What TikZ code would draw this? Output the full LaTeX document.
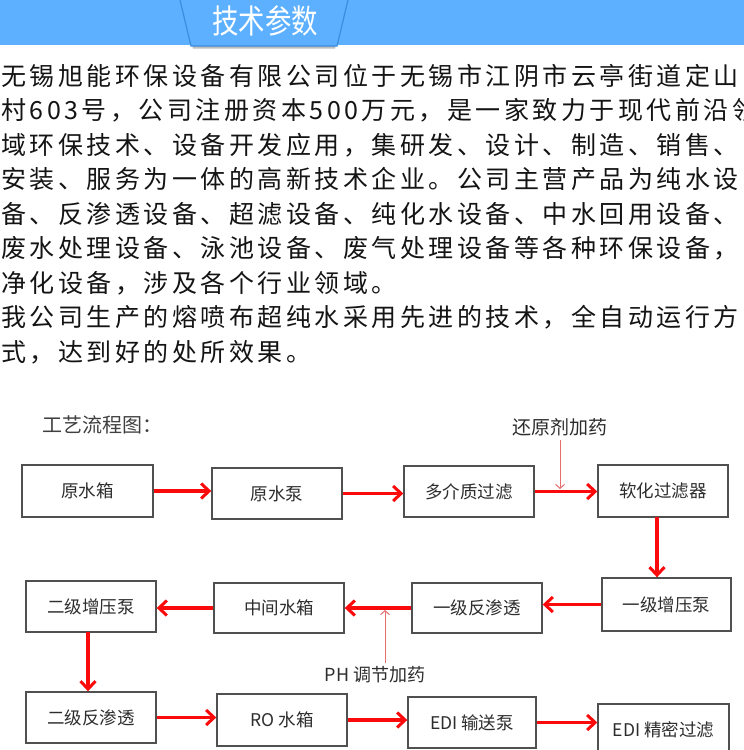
\documentclass[tikz,border=0pt]{standalone}
\usepackage{fontspec}
\usetikzlibrary{arrows.meta}
\newfontfamily\cjk{Noto Sans CJK SC}
\newfontfamily\cjkbody[LetterSpace=14]{Noto Sans CJK SC}
\definecolor{band}{RGB}{92,176,255}
\definecolor{bandedge}{RGB}{60,140,220}
\definecolor{boxline}{RGB}{80,80,80}
\definecolor{boxtext}{RGB}{45,45,45}
\definecolor{flowred}{RGB}{250,10,10}
\definecolor{thinred}{RGB}{232,110,110}
\tikzset{
  procbox/.style={draw=boxline, line width=1.4pt, fill=white, text=boxtext,
    font=\cjk\fontsize{17.5}{17.5}\selectfont, minimum width=130pt, minimum height=51pt,
    inner sep=0pt},
  flow/.style={draw=flowred, line width=3.2pt,
    -{Straight Barb[length=8pt,width=15pt,line width=3pt]}},
  dose/.style={draw=thinred, line width=1pt,
    -{Straight Barb[length=4pt,width=9pt,line width=1pt]}},
  bodyline/.style={anchor=base west, inner sep=0pt, text=black!92,
    font=\cjkbody\fontsize{25}{25}\selectfont},
  lbl/.style={inner sep=0pt, text=boxtext, font=\cjk\fontsize{19}{19}\selectfont}
}
\begin{document}
\begin{tikzpicture}[x=1pt,y=-1pt]
\useasboundingbox (0,0) rectangle (744,750);
\clip (0,0) rectangle (744,750);
\fill[white] (0,0) rectangle (744,750);
% header band
\fill[band] (0,0) rectangle (744,45);
\fill[black!25] (192,45) -- (336,45) -- (335,48.5) -- (193,48.5) -- cycle;
\fill[band] (180,0) -- (348,0) -- (337,46) -- (191,46) -- cycle;
\draw[bandedge, line width=1.2pt] (180,0) -- (191,46) -- (337,46) -- (348,0);
\node[text=white, inner sep=0pt, font=\cjk\fontsize{33}{33}\selectfont, xscale=0.8] (title) at (265,21) {技术参数};
% body text
\node[bodyline] (l1) at (1,85) {无锡旭能环保设备有限公司位于无锡市江阴市云亭街道定山};
\node[bodyline] (l2) at (1,119.5) {村603号，公司注册资本500万元，是一家致力于现代前沿领};
\node[bodyline] (l3) at (1,154) {域环保技术、设备开发应用，集研发、设计、制造、销售、};
\node[bodyline] (l4) at (1,188.5) {安装、服务为一体的高新技术企业。公司主营产品为纯水设};
\node[bodyline] (l5) at (1,223) {备、反渗透设备、超滤设备、纯化水设备、中水回用设备、};
\node[bodyline] (l6) at (1,257.5) {废水处理设备、泳池设备、废气处理设备等各种环保设备，};
\node[bodyline] (l7) at (1,292) {净化设备，涉及各个行业领域。};
\node[bodyline] (l8) at (1,326.5) {我公司生产的熔喷布超纯水采用先进的技术，全自动运行方};
\node[bodyline] (l9) at (1,361) {式，达到好的处所效果。};
% flow chart
\node[lbl, anchor=west, font=\cjk\fontsize{20}{20}\selectfont, text=black!75] (head) at (42,425) {工艺流程图：};
\node[procbox, minimum width=131pt, minimum height=52pt] (yxx) at (87.5,491) {原水箱};
\node[procbox] (yxb) at (277,493.5) {原水泵};
\node[procbox] (djz) at (469,491.5) {多介质过滤};
\node[procbox, minimum height=52pt] (rh) at (663,491) {软化过滤器};
\node[procbox, minimum width=129pt, minimum height=53pt] (yjzy) at (666.5,604.5) {一级增压泵};
\node[procbox, minimum height=50pt] (yjfs) at (477,608) {一级反渗透};
\node[procbox, minimum height=50pt] (zjsx) at (279,608) {中间水箱};
\node[procbox] (ejzy) at (91,606.5) {二级增压泵};
\node[procbox] (ejfs) at (91,717.5) {二级反渗透};
\node[procbox, minimum height=52pt] (ro) at (282,720) {RO 水箱};
\node[procbox, minimum width=128pt] (edib) at (472,722.5) {EDI 输送泵};
\node[procbox, minimum width=131pt] (edij) at (663.5,729.5) {EDI 精密过滤};
\node[lbl] (hy) at (560,427) {还原剂加药};
\node[lbl, font=\cjk\fontsize{18}{18}\selectfont] (ph) at (375,675) {PH 调节加药};
% connectors
\draw[flow] (yxx.east) -- (yxb.west |- yxx.east);
\draw[flow] (yxb.east) -- (djz.west |- yxb.east);
\draw[flow] (djz.east) -- (rh.west |- djz.east);
\coordinate (rhs) at (657,517);
\draw[flow] (rhs) -- (rhs |- yjzy.north);
\draw[flow] (yjzy.west) -- (yjfs.east |- yjzy.west);
\draw[flow] (yjfs.west) -- (zjsx.east |- yjfs.west);
\draw[flow] (zjsx.west) -- (ejzy.east |- zjsx.west);
\coordinate (ejs) at (88,632);
\draw[flow] (ejs) -- (ejs |- ejfs.north);
\draw[flow] (ejfs.east) -- (ro.west |- ejfs.east);
\draw[flow] (ro.east) -- (edib.west |- ro.east);
\draw[flow] (edib.east) -- (edij.west |- edib.east);
\coordinate (j1) at (560,489);
\draw[dose] (j1 |- hy.south) ++(0,4) -- (j1);
\coordinate (j2) at (385,610);
\draw[dose] (j2 |- ph.north) ++(0,-4) -- (j2);
\end{tikzpicture}
\end{document}
